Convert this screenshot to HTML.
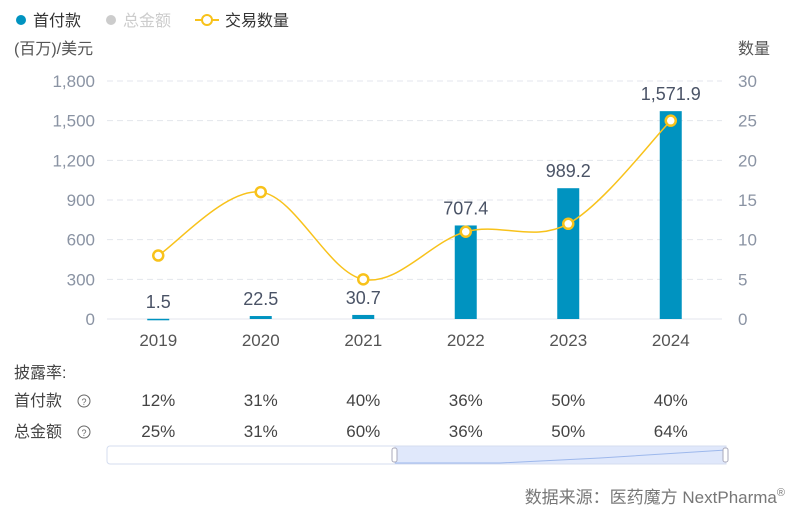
<!DOCTYPE html>
<html><head><meta charset="utf-8"><style>
body{margin:0;background:#fff;font-family:"Liberation Sans","Noto Sans CJK SC",sans-serif;}
svg text{font-family:"Liberation Sans","Noto Sans CJK SC",sans-serif;}
</style></head><body>
<svg id="c" width="791" height="513" viewBox="0 0 791 513">
<g>
 <g><circle cx="21" cy="20" r="5" fill="#0093c0"/><text x="33" y="26" font-size="16" fill="#333">首付款</text></g>
 <g><circle cx="111" cy="20" r="5" fill="#ccc"/><text x="123" y="26" font-size="16" fill="#ccc">总金额</text></g>
 <g><line x1="195" y1="20" x2="219" y2="20" stroke="#f8c21b" stroke-width="2"/><circle cx="207" cy="20" r="5" fill="#fff" stroke="#f8c21b" stroke-width="2"/><text x="225" y="26" font-size="16" fill="#333">交易数量</text></g>
</g>
<text x="14" y="54" font-size="16" fill="#555">(百万)/美元</text>
<text x="738" y="54" font-size="16" fill="#555">数量</text>
<g id="grid"></g><g id="marks"></g>
<g font-size="16" fill="#444">
 <text x="14" y="378">披露率:</text>
 <text x="14" y="406">首付款</text><circle cx="84" cy="401" r="6" fill="none" stroke="#666"/><text x="84" y="405" font-size="9" text-anchor="middle" fill="#666">?</text>
 <text x="14" y="437">总金额</text><circle cx="84" cy="432" r="6" fill="none" stroke="#666"/><text x="84" y="436" font-size="9" text-anchor="middle" fill="#666">?</text>
</g>
<g id="rates"></g>
<g>
 <rect x="107" y="446" width="619" height="18" rx="3" fill="#fff" stroke="#d5ddef"/>
 <rect x="395" y="446" width="331" height="18" fill="#e0e8fb" stroke="#d5ddef"/>
 <polyline points="395,463 500,463 600,458 726,450" fill="none" stroke="#9db8ec"/>
 <rect x="392" y="448" width="5" height="14" rx="2" fill="#fff" stroke="#aab"/>
 <rect x="723" y="448" width="5" height="14" rx="2" fill="#fff" stroke="#aab"/>
</g>
<text x="785" y="503" font-size="17" fill="#777" text-anchor="end">数据来源：医药魔方 NextPharma<tspan font-size="11" dy="-7">®</tspan></text>
</svg>
<script>
const categories=["2019","2020","2021","2022","2023","2024"];
const downPayment=[1.5,22.5,30.7,707.4,989.2,1571.9];
const dealCounts=[8,16,5,11,12,25];
const leftTicks=[0,300,600,900,1200,1500,1800];
const rightTicks=[0,5,10,15,20,25,30];
const rateDown=["12%","31%","40%","36%","50%","40%"];
const rateTotal=["25%","31%","60%","36%","50%","64%"];
const NS="http://www.w3.org/2000/svg";
const x0=107,x1=722,y0=319,y1=81;
const band=(x1-x0)/categories.length;
const xc=i=>x0+band*(i+0.5);
const yl=v=>y0-(v/1800)*(y0-y1);
const yr=v=>y0-(v/30)*(y0-y1);
function mk(t,a,p){const e=document.createElementNS(NS,t);for(const k in a)e.setAttribute(k,a[k]);p.appendChild(e);return e;}
const g=document.getElementById('grid'),m=document.getElementById('marks'),r=document.getElementById('rates');
leftTicks.forEach((v,i)=>{
 const l=mk('line',{x1:x0,x2:x1,y1:yl(v),y2:yl(v),stroke:'#e3e6ec','stroke-dasharray':v?'6,4':'',"stroke-width":1},g);
 
 
 const t=mk('text',{x:95,y:yl(v)+6,'text-anchor':'end','font-size':17,fill:'#8a93a3'},g);t.textContent=v.toLocaleString('en-US');
 
 
});
rightTicks.forEach(v=>{
 const t=mk('text',{x:738,y:yr(v)+6,'font-size':17,fill:'#8a93a3'},g);t.textContent=v;
 
 
});
categories.forEach((c,i)=>{
 const t=mk('text',{x:xc(i),y:346,'text-anchor':'middle','font-size':17,fill:'#555'},g);t.textContent=c;
 
 
 const b=mk('rect',{x:xc(i)-11,y:yl(downPayment[i]),width:22,height:Math.max(y0-yl(downPayment[i]),1.5),fill:'#0093c0'},m);
 
 
 const lb=mk('text',{x:xc(i),y:Math.min(yl(downPayment[i]),y0)-11,'text-anchor':'middle','font-size':18,fill:'#4a5366'},m);lb.textContent=downPayment[i].toLocaleString('en-US');
 
 
 const a=mk('text',{x:xc(i),y:406,'text-anchor':'middle','font-size':17,fill:'#444'},r);a.textContent=rateDown[i];
 
 
 const b2=mk('text',{x:xc(i),y:437,'text-anchor':'middle','font-size':17,fill:'#444'},r);b2.textContent=rateTotal[i];
 
 
});
const pts=dealCounts.map((v,i)=>[xc(i),yr(v)]);
let d='M'+pts[0][0]+','+pts[0][1];
for(let i=0;i<pts.length-1;i++){
 const p0=pts[Math.max(i-1,0)],p1=pts[i],p2=pts[i+1],p3=pts[Math.min(i+2,pts.length-1)];
 const k=0.17;
 d+=` C${p1[0]+(p2[0]-p0[0])*k},${p1[1]+(p2[1]-p0[1])*k} ${p2[0]-(p3[0]-p1[0])*k},${p2[1]-(p3[1]-p1[1])*k} ${p2[0]},${p2[1]}`;
}
const ln=mk('path',{d:d,fill:'none',stroke:'#f8c21b','stroke-width':1.5},m);


pts.forEach(p=>{
 const c=mk('circle',{cx:p[0],cy:p[1],r:5,fill:'#fff',stroke:'#f8c21b','stroke-width':2.5},m);
 
 
});
</script>
</body></html>
